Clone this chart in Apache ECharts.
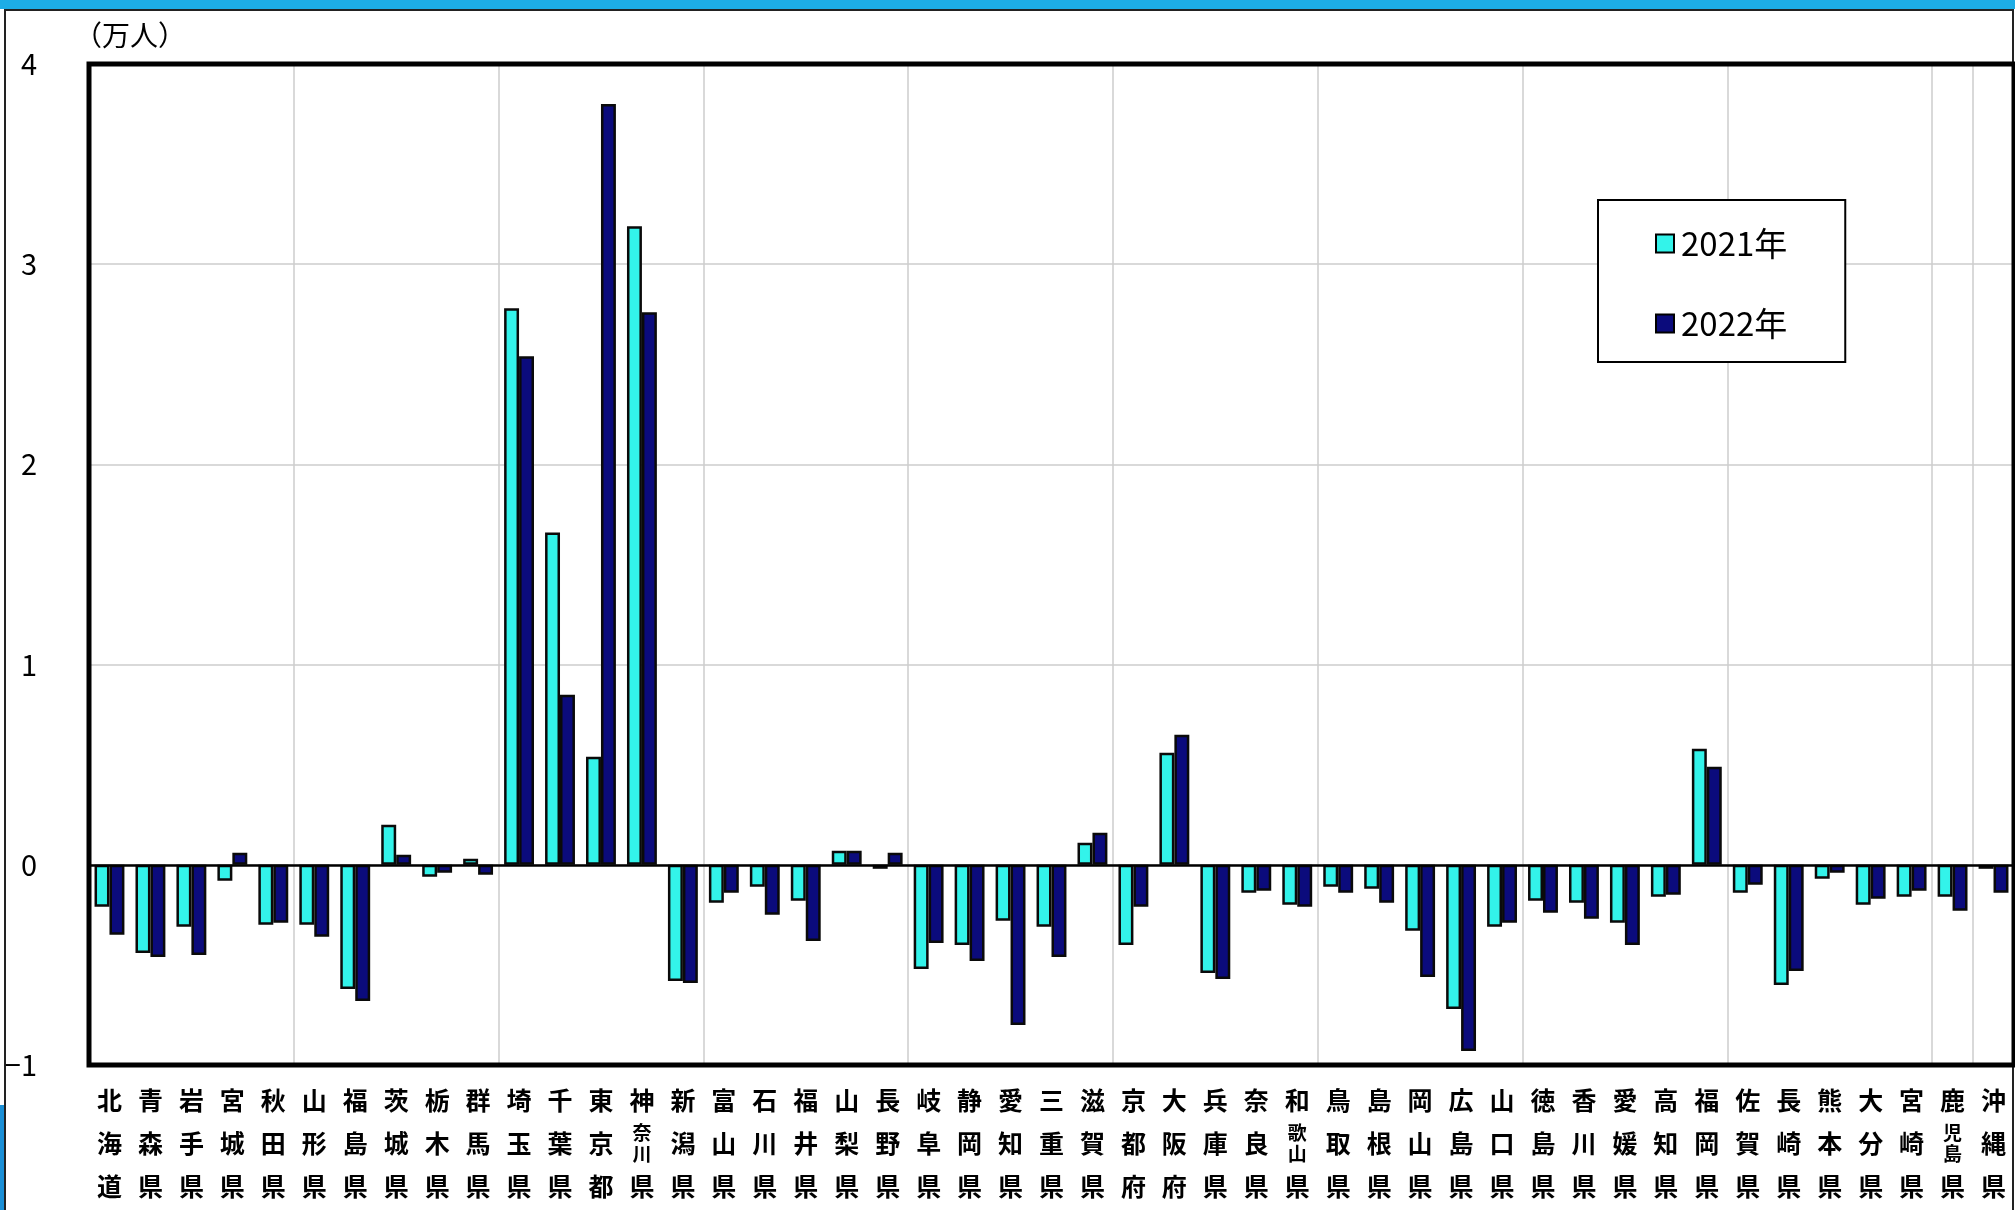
<!DOCTYPE html>
<html>
<head>
<meta charset="utf-8">
<title>都道府県別 人口移動（転入超過数）</title>
<script src="https://cdn.jsdelivr.net/npm/echarts@6/dist/echarts.min.js"></script>
<style>
  html, body { margin: 0; padding: 0; background: #fff; }
  #chart { width: 2015px; height: 1210px; }
</style>
</head>
<body>
<div id="chart"></div>
<script>
// Prefectures, in standard order
const prefectures = [
  '北海道','青森県','岩手県','宮城県','秋田県','山形県','福島県','茨城県','栃木県','群馬県',
  '埼玉県','千葉県','東京都','神奈川県','新潟県','富山県','石川県','福井県','山梨県','長野県',
  '岐阜県','静岡県','愛知県','三重県','滋賀県','京都府','大阪府','兵庫県','奈良県','和歌山県',
  '鳥取県','島根県','岡山県','広島県','山口県','徳島県','香川県','愛媛県','高知県','福岡県',
  '佐賀県','長崎県','熊本県','大分県','宮崎県','鹿児島県','沖縄県'
];

// Net migration (万人)
const values2021 = [
  -0.21, -0.44, -0.31, -0.08, -0.30, -0.30, -0.62,  0.20, -0.06,  0.03,
   2.78,  1.66,  0.54,  3.19, -0.58, -0.19, -0.11, -0.18,  0.07, -0.02,
  -0.52, -0.40, -0.28, -0.31,  0.11, -0.40,  0.56, -0.54, -0.14, -0.20,
  -0.11, -0.12, -0.33, -0.72, -0.31, -0.18, -0.19, -0.29, -0.16,  0.58,
  -0.14, -0.60, -0.07, -0.20, -0.16, -0.16, -0.02
];
const values2022 = [
  -0.35, -0.46, -0.45,  0.06, -0.29, -0.36, -0.68,  0.05, -0.04, -0.05,
   2.54,  0.85,  3.80,  2.76, -0.59, -0.14, -0.25, -0.38,  0.07,  0.06,
  -0.39, -0.48, -0.80, -0.46,  0.16, -0.21,  0.65, -0.57, -0.13, -0.21,
  -0.14, -0.19, -0.56, -0.93, -0.29, -0.24, -0.27, -0.40, -0.15,  0.49,
  -0.10, -0.53, -0.04, -0.17, -0.13, -0.23, -0.14
];

const seriesNames = ['2021年', '2022年'];
const yTicks = { min: -1, max: 4, step: 1 };

const FONT = '"Noto Sans CJK JP", "Noto Sans", sans-serif';

// Plot box in pixels
const PLOT = { left: 89, top: 64, right: 1, bottom: 145 };
const W = 2015, H = 1210;

// Stack each name vertically; four-character names squeeze the middle pair
function verticalName(name) {
  const c = Array.from(name);
  if (c.length === 4) {
    return '{a|' + c[0] + '}\n{s|' + c[1] + '}\n{s|' + c[2] + '}\n{a|' + c[3] + '}';
  }
  return c.map(ch => '{a|' + ch + '}').join('\n');
}

const chart = echarts.init(document.getElementById('chart'), null, { renderer: 'canvas' });

chart.setOption({
  backgroundColor: '#ffffff',
  animation: false,
  graphic: [
    { type: 'rect', shape: { x: 0, y: 0, width: W, height: 9 }, style: { fill: '#1dade6' }, silent: true },
    { type: 'rect', shape: { x: 0, y: 1105, width: 5, height: 105 }, style: { fill: '#1a8fd6' }, silent: true },
    { type: 'rect', shape: { x: 5, y: 10, width: 2008, height: 1230 }, style: { fill: null, stroke: '#222', lineWidth: 2 }, silent: true },
    // heavy frame around the plot area, drawn above the grid lines
    {
      type: 'rect', z: 50, silent: true,
      shape: { x: PLOT.left, y: PLOT.top, width: W - PLOT.left - PLOT.right, height: H - PLOT.top - PLOT.bottom },
      style: { fill: null, stroke: '#000', lineWidth: 5 }
    },
    { type: 'text', left: 74, top: 21, style: { text: '（万人）', font: '28px ' + FONT, fill: '#000' } }
  ],
  grid: {
    left: PLOT.left, top: PLOT.top, right: PLOT.right, bottom: PLOT.bottom,
    show: true, borderColor: '#000', borderWidth: 0, backgroundColor: '#fff'
  },
  legend: {
    data: seriesNames,
    orient: 'vertical',
    left: 1598, top: 200,
    padding: [27, 58, 22, 57],
    itemGap: 47,
    itemWidth: 18, itemHeight: 18,
    icon: 'rect',
    backgroundColor: '#fff',
    borderColor: '#000', borderWidth: 2,
    itemStyle: { borderColor: '#000', borderWidth: 2 },
    textStyle: { fontSize: 33, lineHeight: 32, color: '#000', fontFamily: FONT, padding: [0, 0, 0, 2] }
  },
  xAxis: {
    type: 'category',
    data: prefectures,
    boundaryGap: true,
    axisLine: { show: false, onZero: false },
    axisTick: { show: false },
    splitLine: { show: true, interval: 4, lineStyle: { color: '#cdcdcd', width: 1.5 } },
    axisLabel: {
      interval: 0,
      margin: 14,
      align: 'center',
      verticalAlign: 'top',
      formatter: verticalName,
      rich: {
        a: { fontSize: 25, lineHeight: 43, fontWeight: 'bold', color: '#000', fontFamily: FONT },
        s: { fontSize: 19, lineHeight: 21.5, fontWeight: 'bold', color: '#000', fontFamily: FONT }
      }
    }
  },
  yAxis: {
    type: 'value',
    min: yTicks.min, max: yTicks.max, interval: yTicks.step,
    axisLine: { show: false },
    axisTick: { show: false },
    splitLine: { show: true, lineStyle: { color: '#cdcdcd', width: 1.5 } },
    axisLabel: {
      margin: 52, align: 'right', fontSize: 29, color: '#000', fontFamily: FONT,
      formatter: v => (v < 0 ? '−' + Math.abs(v) : String(v))
    }
  },
  series: [
    {
      name: seriesNames[0],
      type: 'bar',
      data: values2021,
      barGap: '0%',
      barCategoryGap: '27%',
      itemStyle: { color: '#33f3ea', borderColor: '#0a0a0a', borderWidth: 2.5 },
      markLine: {
        silent: true, symbol: 'none', animation: false,
        label: { show: false },
        lineStyle: { color: '#000', width: 2.5, type: 'solid' },
        data: [{ yAxis: 0 }]
      },
      z: 3
    },
    {
      name: seriesNames[1],
      type: 'bar',
      data: values2022,
      itemStyle: { color: '#0b0b7c', borderColor: '#0a0a0a', borderWidth: 2.5 },
      z: 3
    }
  ]
});
</script>
</body>
</html>
